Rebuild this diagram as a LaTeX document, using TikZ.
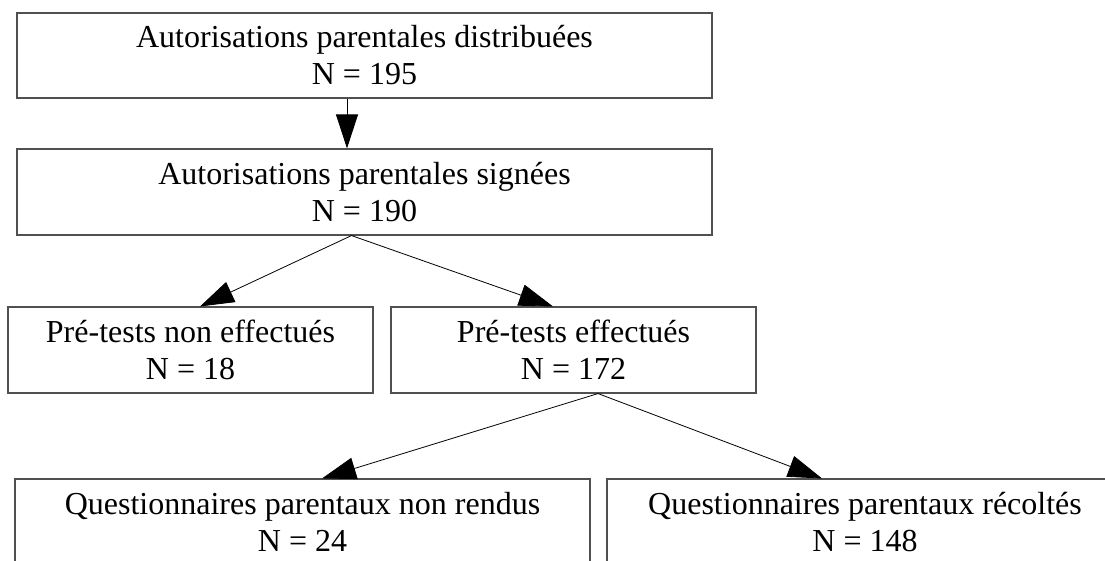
\documentclass[tikz,border=0pt]{standalone}
\usepackage{fontspec}
\setmainfont{Liberation Serif}
\usetikzlibrary{arrows.meta,calc}
\begin{document}
\begin{tikzpicture}[x=1pt,y=-1pt,
  box/.style={draw={rgb,255:red,80;green,80;blue,80}, line width=1.1pt, rectangle, inner sep=0pt,
    align=center, font=\fontsize{32}{37}\selectfont},
  conn/.style={black, line width=0.8pt, -{Triangle[length=34pt,width=22pt]}}]
\useasboundingbox (0,0) rectangle (1105,560);
\clip (0,0) rectangle (1105,560);
\node[box, minimum width=695pt, minimum height=85pt] (b1) at (364.5,55.5) {Autorisations parentales distribuées\\N = 195};
\node[box, minimum width=695pt, minimum height=86pt] (b2) at (364.5,192) {Autorisations parentales signées\\N = 190};
\node[box, minimum width=365pt, minimum height=86pt] (b3) at (190.5,350) {Pré-tests non effectués\\N = 18};
\node[box, minimum width=365pt, minimum height=86pt] (b4) at (573.5,350) {Pré-tests effectués\\N = 172};
\node[box, minimum width=575pt, minimum height=86pt] (b5) at (302.5,522) {Questionnaires parentaux non rendus\\N = 24};
\node[box, minimum width=516pt, minimum height=86pt] (b6) at (865,522) {Questionnaires parentaux récoltés\\N = 148};
\draw[conn] ($(b1.south)+(-17.5,0)$) -- ($(b2.north)+(-17.5,0)$);
\draw[conn] ($(b2.south)+(-13,0)$) -- ($(b3.north)+(9.5,0)$);
\draw[conn] ($(b2.south)+(-13,0)$) -- ($(b4.north)+(-20.5,0)$);
\draw[conn] ($(b4.south)+(24.5,0)$) -- ($(b5.north)+(19.5,0)$);
\draw[conn] ($(b4.south)+(24.5,0)$) -- ($(b6.north)+(-43,0)$);
\end{tikzpicture}
\end{document}
